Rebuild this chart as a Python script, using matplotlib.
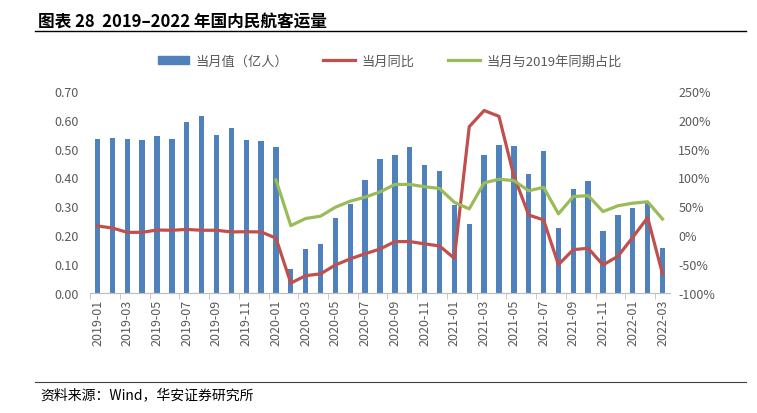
import numpy as np
import matplotlib.pyplot as plt
from matplotlib.lines import Line2D
from matplotlib.patches import Patch

plt.rcParams['font.family'] = ['Noto Sans CJK SC', 'DejaVu Sans']

months = []
for y in range(2019, 2023):
    for m in range(1, 13):
        if y == 2022 and m > 3:
            break
        months.append(f"{y}-{m:02d}")

# 当月值（亿人）
volume = [0.534, 0.538, 0.535, 0.531, 0.545, 0.534, 0.594, 0.612, 0.547, 0.571, 0.530, 0.528,
          0.506, 0.083, 0.152, 0.169, 0.259, 0.307, 0.393, 0.463, 0.479, 0.504, 0.444, 0.424,
          0.303, 0.240, 0.479, 0.512, 0.510, 0.412, 0.492, 0.224, 0.361, 0.388, 0.216, 0.271,
          0.296, 0.312, 0.154]
# 当月同比 (%)
yoy = [16, 12.5, 5, 5, 9, 8.6, 10, 8.6, 8.6, 5.7, 6, 5.7,
       -5, -83, -70, -67, -51.5, -41, -32, -24, -11, -11, -15, -18.5,
       -40, 188, 216, 206, 103, 35, 26.5, -51, -25, -22.6, -51.5, -36.5,
       -3.5, 30.5, -67]
# 当月与2019年同期占比 (%), from 2020-01
vs2019 = [96, 16.6, 29, 33, 48.5, 59, 66, 75, 88, 88, 84, 81,
          57, 45.6, 90.6, 97, 94.6, 77, 83, 37, 67, 68.6, 41, 51,
          55.5, 58, 28]

blue = '#4F81BD'
red = '#C0504D'
green = '#9BBB59'
grey = '#595959'

fig = plt.figure(figsize=(7.57, 4.14), dpi=100)
ax = fig.add_axes([0.119, 0.29, 0.766, 0.488])
ax2 = ax.twinx()

x = np.arange(len(months))
ax.bar(x, volume, width=0.36, color=blue, zorder=2)
ax2.plot(x, yoy, color=red, lw=2.3, zorder=3)
ax2.plot(x[12:], vs2019, color=green, lw=2.3, zorder=3)

ax.set_xlim(-0.5, len(months) - 0.5)
ax.set_ylim(0, 0.7)
ax.set_yticks(np.arange(0, 0.71, 0.1))
ax.set_yticklabels([f"{v:.2f}" for v in np.arange(0, 0.71, 0.1)])
ax2.set_ylim(-100, 250)
ax2.set_yticks(np.arange(-100, 251, 50))
ax2.set_yticklabels([f"{v}%" for v in range(-100, 251, 50)])

ax.set_xticks(x[::2])
ax.set_xticklabels(months[::2], rotation=90)
ax.set_xticks(np.arange(-0.5, len(months), 2), minor=True)
ax.tick_params(axis='x', which='major', length=0, colors=grey, labelsize=9, pad=4)
ax.tick_params(axis='x', which='minor', length=4, color='#BFBFBF')
ax.tick_params(axis='y', length=0, colors=grey, labelsize=9, pad=8)
ax2.tick_params(axis='y', length=0, colors=grey, labelsize=9, pad=6)

for a in (ax, ax2):
    for s in ('top', 'left', 'right'):
        a.spines[s].set_visible(False)
    a.spines['bottom'].set_color('#BFBFBF')

handles = [Patch(color=blue), Line2D([], [], color=red, lw=2.3), Line2D([], [], color=green, lw=2.3)]
labels = ['当月值（亿人）', '当月同比', '当月与2019年同期占比']
fig.legend(handles, labels, loc='center', bbox_to_anchor=(0.515, 0.85), ncol=3, frameon=False,
           fontsize=9.5, labelcolor=grey, handlelength=2.4, handleheight=0.5, handletextpad=0.5,
           columnspacing=2.6)

fig.text(0.05, 0.945, '图表 28  2019–2022 年国内民航客运量', fontsize=12, fontweight='bold', va='center')
fig.add_artist(Line2D([0.046, 0.985], [0.922, 0.922], color='black', lw=1))
fig.add_artist(Line2D([0.046, 0.985], [0.075, 0.075], color='#404040', lw=0.8))
fig.text(0.053, 0.045, '资料来源：Wind，华安证券研究所', fontsize=10, va='center')

fig.savefig('out.png', dpi=100)
